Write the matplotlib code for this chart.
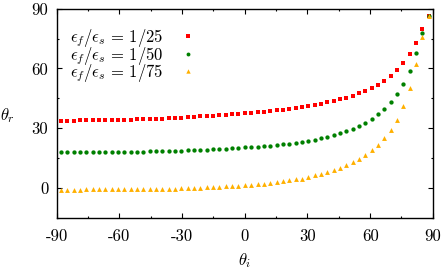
import numpy as np
from matplotlib import pyplot as plt

plt.rcParams['mathtext.fontset'] = 'cm'
plt.rcParams['font.family'] = ['cmr10', 'DejaVu Serif']
plt.rcParams['axes.unicode_minus'] = False

# incidence angle grid (deg)
theta_i = [-88.0, -85.0, -81.9, -78.9, -75.9, -72.8, -69.8, -66.8, -63.7, -60.7,
           -57.7, -54.6, -51.6, -48.6, -45.5, -42.5, -39.4, -36.4, -33.4, -30.3,
           -27.3, -24.3, -21.2, -18.2, -15.2, -12.1, -9.1, -6.1, -3.0, 0.0,
           3.0, 6.1, 9.1, 12.1, 15.2, 18.2, 21.2, 24.3, 27.3, 30.3,
           33.4, 36.4, 39.4, 42.5, 45.5, 48.6, 51.6, 54.6, 57.7, 60.7,
           63.7, 66.8, 69.8, 72.8, 75.9, 78.9, 81.9, 85.0, 88.0]

theta_r_25 = [33.8, 33.8, 33.8, 33.9, 33.9, 33.9, 34.0, 34.0, 34.1, 34.1,
              34.2, 34.3, 34.4, 34.5, 34.6, 34.7, 34.8, 35.0, 35.1, 35.3,
              35.5, 35.7, 35.9, 36.1, 36.3, 36.5, 36.8, 37.0, 37.3, 37.5,
              37.8, 38.0, 38.3, 38.6, 38.9, 39.3, 39.6, 40.0, 40.4, 40.9,
              41.5, 42.1, 42.9, 43.6, 44.4, 45.3, 46.3, 47.4, 48.7, 50.3,
              51.9, 53.8, 56.3, 59.2, 62.7, 67.2, 73.0, 79.6, 86.2]

theta_r_50 = [18.0, 18.0, 18.0, 18.0, 18.0, 18.0, 18.0, 18.1, 18.1, 18.1,
              18.1, 18.2, 18.2, 18.2, 18.3, 18.3, 18.4, 18.5, 18.6, 18.7,
              18.8, 18.9, 19.0, 19.2, 19.3, 19.5, 19.7, 19.9, 20.1, 20.3,
              20.5, 20.7, 20.9, 21.2, 21.6, 21.9, 22.2, 22.7, 23.0, 23.6,
              24.1, 24.9, 25.7, 26.5, 27.5, 28.4, 29.7, 31.1, 32.6, 34.6,
              36.9, 39.6, 42.9, 46.9, 52.2, 58.9, 67.5, 77.6, 86.2]

theta_r_75 = [-0.9, -0.9, -0.9, -0.9, -0.8, -0.8, -0.8, -0.8, -0.8, -0.7,
              -0.7, -0.7, -0.7, -0.6, -0.6, -0.6, -0.5, -0.5, -0.4, -0.3,
              -0.2, -0.1, 0.0, 0.2, 0.3, 0.5, 0.7, 0.9, 1.1, 1.4,
              1.6, 1.9, 2.1, 2.6, 2.9, 3.2, 3.7, 4.2, 4.6, 5.4,
              6.2, 7.0, 8.0, 9.0, 10.1, 11.3, 12.8, 14.5, 16.6, 19.0,
              21.7, 25.1, 29.2, 34.3, 41.0, 50.3, 62.4, 76.0, 86.2]

labels = [r'$\epsilon_f/\epsilon_s\,=\,1/25$', r'$\epsilon_f/\epsilon_s\,=\,1/50$', r'$\epsilon_f/\epsilon_s\,=\,1/75$']
xticks = [-90, -60, -30, 0, 30, 60, 90]
yticks = [0, 30, 60, 90]

fig = plt.figure(figsize=(4.43, 2.72), dpi=100)
ax = fig.add_axes([0.128, 0.2, 0.849, 0.768])

ax.plot(theta_i, theta_r_25, 's', color='#ff0000', ms=2.9, mew=0, label=labels[0])
ax.plot(theta_i, theta_r_50, 'o', color='#008000', ms=3.1, mew=0, label=labels[1])
ax.plot(theta_i, theta_r_75, '^', color='#ffb000', ms=3.5, mew=0, label=labels[2])

ax.set_xlim(-90, 90)
ax.set_ylim(-10, 90)
ax.set_xticks(xticks)
ax.set_xticklabels([str(t) for t in xticks])
ax.set_yticks(yticks)
ax.set_yticklabels([str(t) for t in yticks])
ax.set_xticks(np.arange(-75, 90, 30), minor=True)
ax.set_yticks([-15, 15, 45, 75], minor=True)
ax.tick_params(which='both', direction='in', top=True, right=True, labelsize=12)
ax.tick_params(which='major', length=3.4, width=0.8)
ax.tick_params(which='minor', length=1.7, width=0.8)
ax.tick_params(axis='x', pad=8)
ax.tick_params(axis='y', pad=6)
for s in ax.spines.values():
    s.set_linewidth(1.0)

ax.set_xlabel(r'$\theta_i$', fontsize=12, va='center')
ax.set_ylabel(r'$\theta_r$', fontsize=12, rotation=0, ha='center', va='center')
ax.xaxis.set_label_coords(0.5, -0.205)
ax.yaxis.set_label_coords(-0.132, 0.49)

ax.legend(loc='upper left', bbox_to_anchor=(0.021, 0.935), markerfirst=False, frameon=False,
          fontsize=12, handlelength=1.0, handletextpad=1.0, labelspacing=-0.28,
          borderaxespad=0.0, borderpad=0.3, markerscale=0.9)

plt.savefig('out.png', dpi=100)
